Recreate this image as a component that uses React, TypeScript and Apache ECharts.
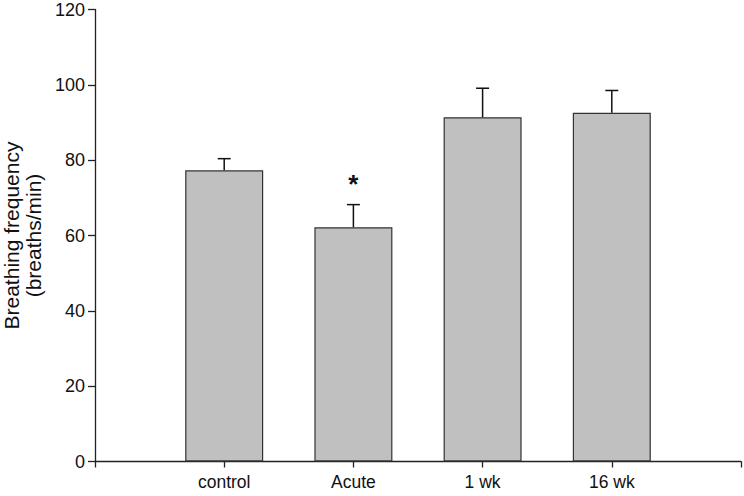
import React, { useEffect, useRef } from "react";
import * as echarts from "echarts";

const categories = ["", "control", "Acute", "1 wk", "16 wk", ""];
const means = [77.3, 62.2, 91.4, 92.6];
const errors = [3.1, 6.0, 7.7, 5.9];
const marks = ["", "*", "", ""];
const yTicks = [0, 20, 40, 60, 80, 100, 120];

const FONT = "Arial";

export default function App() {
  const ref = useRef<HTMLDivElement>(null);
  useEffect(() => {
    document.body.style.margin = "0";
    const chart = echarts.init(ref.current!, null, { renderer: "svg" });
    const barData: any[] = ["-", ...means, "-"];
    const errData = means.map((m, i) => [i + 1, m, m + errors[i], marks[i]]);
    chart.setOption({
      animation: false,
      backgroundColor: "#ffffff",
      grid: { left: 95, right: 3, top: 9.5, bottom: 34.5, containLabel: false, outerBoundsMode: "none" },
      xAxis: {
        type: "category",
        data: categories,
        boundaryGap: false,
        axisLine: { lineStyle: { color: "#222", width: 1.3 } },
        axisTick: { show: true, length: 6, lineStyle: { color: "#222", width: 1.3 } },
        axisLabel: { color: "#111", fontSize: 17.5, fontFamily: FONT, margin: 11, interval: 0 },
        splitLine: { show: false },
      },
      yAxis: {
        type: "value",
        min: yTicks[0],
        max: yTicks[yTicks.length - 1],
        interval: 20,
        name: "Breathing frequency\n(breaths/min)",
        nameLocation: "middle",
        nameGap: 47,
        nameTextStyle: { color: "#111", fontSize: 21, fontFamily: FONT, lineHeight: 22 },
        axisLine: { show: true, lineStyle: { color: "#222", width: 1.3 } },
        axisTick: { show: true, length: 7, lineStyle: { color: "#222", width: 1.3 } },
        axisLabel: { color: "#111", fontSize: 18, fontFamily: FONT, margin: 10 },
        splitLine: { show: false },
      },
      series: [
        {
          type: "bar",
          data: barData,
          barWidth: 78,
          itemStyle: { color: "#c0c0c0", borderColor: "#333", borderWidth: 1.2 },
          z: 2,
        },
        {
          type: "custom",
          data: errData,
          z: 3,
          renderItem: (params: any, api: any) => {
            const x = api.value(0);
            const top = api.coord([x, api.value(1)]);
            const hi = api.coord([x, api.value(2)]);
            const mark = errData[params.dataIndex][3] as string;
            const half = 6.5;
            const children: any[] = [
              { type: "line", shape: { x1: top[0], y1: top[1], x2: hi[0], y2: hi[1] }, style: { stroke: "#111", lineWidth: 1.5 } },
              { type: "line", shape: { x1: hi[0] - half, y1: hi[1], x2: hi[0] + half, y2: hi[1] }, style: { stroke: "#111", lineWidth: 1.5 } },
            ];
            if (mark) {
              children.push({
                type: "text",
                style: {
                  text: mark,
                  x: hi[0],
                  y: hi[1] - 21,
                  align: "center",
                  verticalAlign: "middle",
                  fontSize: 26,
                  fontWeight: "bold",
                  fontFamily: FONT,
                  fill: "#111",
                },
              });
            }
            return { type: "group", children };
          },
        },
      ],
    });
    return () => chart.dispose();
  }, []);
  return <div ref={ref} style={{ width: 744, height: 496 }} />;
}
